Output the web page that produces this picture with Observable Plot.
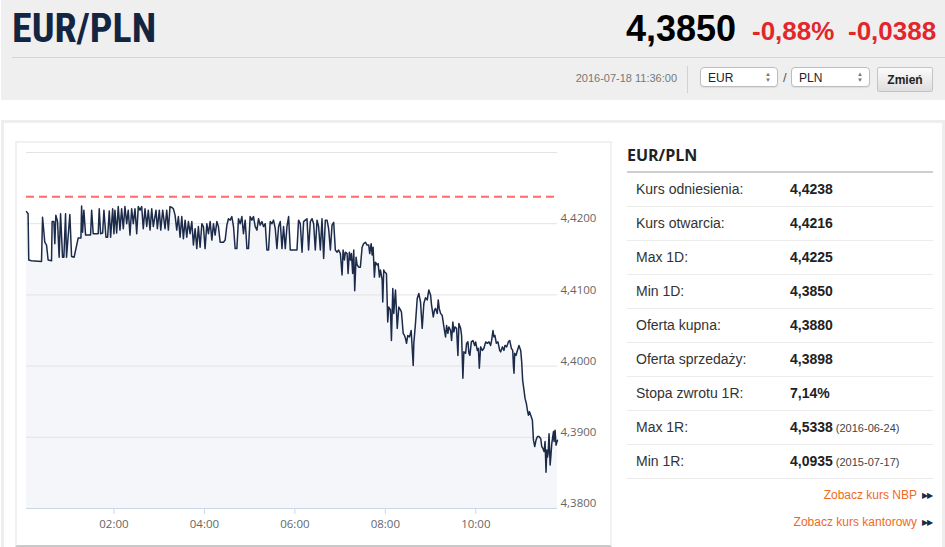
<!DOCTYPE html>
<html>
<head>
<meta charset="utf-8">
<script src="https://cdn.jsdelivr.net/npm/d3@7"></script>
<script src="https://cdn.jsdelivr.net/npm/@observablehq/plot@0.6"></script>
<style>
  html, body { margin:0; padding:0; }
  body { width:945px; height:547px; overflow:hidden; background:#fff; position:relative; font-family:"Liberation Sans", Arial, sans-serif; }
  .abs { position:absolute; }
  #header { left:1px; top:0; width:944px; height:100px; background:#efefef; }
  #title { left:12px; top:5px; font-family:"Liberation Sans Narrow","Roboto Condensed","Liberation Sans",sans-serif; font-weight:bold; font-size:40px; color:#142541; white-space:nowrap; }
  #price { left:626px; top:8px; font-weight:bold; font-size:36px; color:#000; }
  #pct { left:752px; top:16px; font-weight:bold; font-size:26px; color:#e3262b; }
  #chg { left:848px; top:16px; font-weight:bold; font-size:26px; color:#e3262b; }
  #hr { left:12px; top:57px; width:933px; height:1px; background:#d4d4d4; }
  #stamp { right:268px; top:72px; font-size:11px; color:#777; }
  #vsep { left:687px; top:66px; width:1px; height:27px; background:#d2d2d2; }
  .sel { top:67px; height:20px; border:1px solid #bdbdbd; border-radius:4px; background:#fff; font-size:12px; color:#222; line-height:20px; padding-left:7px; box-sizing:border-box; box-shadow:0 1px 1px rgba(0,0,0,0.08);}
  .arr { position:absolute; right:6px; top:3px; font-size:6px; line-height:6px; color:#777; }
  #slash { left:783px; top:70px; font-size:13px; color:#555; }
  #btn { left:877px; top:67px; width:56px; height:25px; border:1px solid #c4c4c4; border-radius:2px; background:linear-gradient(#fbfbfb,#dedede); font-weight:bold; font-size:12px; color:#222; text-align:center; line-height:25px; box-sizing:border-box; }
  #panel { left:1px; top:120px; width:944px; height:440px; border:3px solid #eeeeee; box-sizing:border-box; }
  #chartbox { left:15px; top:141px; width:597px; height:406px; border:2px solid #f1f1f1; border-bottom-color:#c9c9c9; box-sizing:border-box; }
  #chart { left:16px; top:143px; }
  #tbl { left:627px; top:140px; width:306px; }
  #tbl h3 { margin:0; height:31px; font-family:"Open Sans","Liberation Sans",sans-serif; font-weight:bold; font-size:16px; color:#222; line-height:30px; border-bottom:2px solid #cfcfcf; }
  .row { height:33px; border-bottom:1px solid #ececec; position:relative; font-size:14px; color:#333; }
  .row .l { position:absolute; left:9px; top:8px; }
  .row .v { position:absolute; left:163px; top:8px; font-weight:bold; color:#222; }
  .row .d { font-weight:normal; font-size:11px; color:#444; margin-left:3px; }
  .lnk { right:13px; font-size:12px; color:#f06a1d; white-space:nowrap; }
  .lnk span { color:#1b2a47; font-size:8px; margin-left:5px; vertical-align:1px; letter-spacing:-1px; }
</style>
</head>
<body>
<div id="header" class="abs"></div>
<div id="title" class="abs">EUR/PLN</div>
<div id="price" class="abs">4,3850</div>
<div id="pct" class="abs">-0,88%</div>
<div id="chg" class="abs">-0,0388</div>
<div id="hr" class="abs"></div>
<div id="stamp" class="abs">2016-07-18 11:36:00</div>
<div id="vsep" class="abs"></div>
<div class="abs sel" style="left:700px;width:78px;">EUR<span class="arr">▲<br>▼</span></div>
<div id="slash" class="abs">/</div>
<div class="abs sel" style="left:791px;width:79px;">PLN<span class="arr">▲<br>▼</span></div>
<div id="btn" class="abs">Zmień</div>

<div id="panel" class="abs"></div>
<div id="chartbox" class="abs"></div>
<div id="chart" class="abs"></div>

<div id="tbl" class="abs"></div>
<div class="abs lnk" style="top:488px;">Zobacz kurs NBP<span>▶▶</span></div>
<div class="abs lnk" style="top:515px;">Zobacz kurs kantorowy<span>▶▶</span></div>

<script>
// ---- data: minutes since 00:00 on 2016-07-18, and EUR/PLN rate ----
const times = [
4.0,6.1,7.0,10.6,23.9,25.3,28.3,30.6,32.7,37.2,38.0,40.3,41.6,42.9,45.2,47.3,49.2,51.8,53.6,55.8,
57.1,61.5,63.8,67.2,72.6,76.2,77.1,78.4,80.1,82.4,89.0,90.4,92.5,99.1,100.5,102.3,105.0,106.7,109.4,111.6,
113.8,115.6,118.3,120.0,121.3,123.6,125.7,128.0,130.2,132.4,134.6,136.9,139.0,141.3,143.5,145.7,147.9,150.2,152.3,154.6,
156.8,158.9,161.2,163.5,165.6,167.9,170.1,172.2,175.8,177.6,180.2,182.1,184.7,187.8,190.0,192.2,194.4,196.7,198.8,201.1,
203.3,205.5,207.7,210.0,212.1,214.4,216.6,218.8,221.0,223.3,225.4,227.7,229.9,232.0,
234.3,236.6,238.7,240.9,243.2,245.3,247.6,249.9,252.0,254.2,256.5,258.6,260.9,265.3,267.5,269.8,271.9,274.2,276.4,278.6,
280.8,283.1,285.2,287.5,289.7,291.8,294.1,296.4,298.5,300.7,303.0,305.1,307.4,309.7,311.8,314.0,316.3,318.4,320.7,322.9,
325.1,327.3,329.6,331.7,334.0,336.2,338.4,340.6,342.9,345.0,347.3,349.5,351.7,353.9,362.8,364.9,367.2,369.5,371.6,373.9,
376.1,378.2,380.5,382.8,384.9,387.1,389.4,391.5,393.8,396.0,398.2,400.4,402.7,404.8,407.1,409.3,411.5,413.7,
416.0,418.1,420.4,422.6,424.0,425.7,427.0,429.3,430.6,432.3,433.7,435.0,436.7,438.1,439.4,441.2,442.6,444.7,446.9,449.2,
451.3,453.6,455.8,458.0,459.3,461.2,462.5,463.8,465.5,466.9,469.1,470.5,472.2,473.5,475.8,476.6,477.9,479.2,481.5,483.2,
484.6,486.8,488.1,489.9,491.2,493.5,495.8,497.9,500.1,501.4,503.7,505.4,506.7,508.1,509.8,512.1,514.3,517.0,517.8,520.0,
522.3,524.4,526.7,528.9,531.1,533.3,535.6,537.7,540.0,541.3,543.6,545.3,546.6,548.9,550.2,551.5,553.3,
555.5,557.7,559.9,561.3,563.0,564.3,566.6,567.9,569.6,570.9,572.3,574.5,576.3,577.6,579.9,581.2,582.9,584.2,586.5,587.8,
589.6,590.9,592.2,594.1,596.2,598.5,599.8,602.0,603.4,604.7,606.4,608.7,610.8,613.1,615.3,617.5,619.7,621.0,622.8,624.1,
625.4,627.3,629.4,631.7,633.0,635.3,637.4,638.7,641.0,643.2,645.0,647.2,649.0,649.9,650.7,651.6,653.3,655.2,657.3,659.6,
660.9,662.2,664.0,665.3,667.2,668.5,669.8,671.2,672.9,675.1,676.5,678.2,679.9,681.8,683.9,686.2,687.5,689.2,690.6,691.9,
693.2,694.2,695.1,695.9,697.2,698.6,699.5,700.8,702.1,703.1,703.8,705.2,706.5,708.4
];
const rates = [
4.4217,4.4214,4.4149,4.4148,4.4147,4.4209,4.4174,4.4170,4.4149,4.4148,4.4203,4.4203,4.4172,4.4212,4.4203,4.4153,4.4214,4.4153,4.4153,4.4214,
4.4153,4.4213,4.4154,4.4153,4.4180,4.4180,4.4225,4.4188,4.4219,4.4184,4.4184,4.4219,4.4186,4.4186,4.4221,4.4186,4.4187,4.4219,4.4181,4.4181,
4.4218,4.4181,4.4221,4.4186,4.4219,4.4187,4.4224,4.4191,4.4221,4.4193,4.4224,4.4200,4.4219,4.4184,4.4221,4.4200,4.4221,4.4186,4.4224,4.4219,
4.4224,4.4193,4.4221,4.4196,4.4219,4.4191,4.4221,4.4196,4.4219,4.4193,4.4219,4.4191,4.4219,4.4193,4.4219,4.4191,4.4224,4.4223,4.4221,4.4212,
4.4191,4.4210,4.4181,4.4210,4.4179,4.4205,4.4181,4.4203,4.4186,4.4203,4.4170,4.4193,4.4165,4.4196,
4.4167,4.4200,4.4196,4.4165,4.4200,4.4186,4.4203,4.4177,4.4200,4.4184,4.4203,4.4196,4.4174,4.4174,4.4177,4.4198,4.4207,4.4205,4.4210,4.4196,
4.4165,4.4165,4.4207,4.4200,4.4210,4.4186,4.4205,4.4165,4.4165,4.4210,4.4205,4.4210,4.4196,4.4191,4.4207,4.4198,4.4203,4.4196,4.4200,4.4163,
4.4163,4.4203,4.4200,4.4205,4.4193,4.4165,4.4196,4.4203,4.4165,4.4196,4.4165,4.4196,4.4210,4.4163,4.4163,4.4205,4.4200,4.4160,4.4203,4.4205,
4.4207,4.4163,4.4203,4.4207,4.4200,4.4163,4.4205,4.4196,4.4163,4.4207,4.4151,4.4205,4.4205,4.4193,4.4163,4.4198,4.4202,4.4163,
4.4160,4.4163,4.4158,4.4128,4.4163,4.4149,4.4160,4.4158,4.4130,4.4160,4.4149,4.4158,4.4130,4.4163,4.4106,4.4153,4.4142,4.4139,4.4139,4.4167,
4.4172,4.4174,4.4170,4.4170,4.4158,4.4172,4.4156,4.4167,4.4125,4.4146,4.4142,4.4144,4.4125,4.4135,4.4121,4.4090,4.4135,4.4132,4.4130,4.4062,
4.4083,4.4079,4.4036,4.4109,4.4074,4.4107,4.4053,4.4083,4.4079,4.4076,4.4046,4.4043,4.4039,4.4032,4.4043,4.4041,4.4050,4.4001,4.4032,4.4060,
4.4095,4.4102,4.4090,4.4053,4.4088,4.4096,4.4093,4.4107,4.4100,4.4086,4.4069,4.4079,4.4081,4.4074,4.4093,4.4081,4.4074,
4.4071,4.4055,4.4041,4.4057,4.4046,4.4055,4.4050,4.4036,4.4062,4.4048,4.4055,4.4053,4.4015,4.4060,4.4053,4.4043,4.3983,4.4020,4.4018,4.4032,
4.4034,4.4018,4.4015,4.4034,4.4036,4.4029,4.4034,4.4022,4.4025,4.3997,4.4027,4.4022,4.4025,4.4034,4.4032,4.4034,4.4029,4.4036,4.4050,4.4041,
4.4043,4.4032,4.4034,4.4022,4.4020,4.4027,4.4022,4.4029,4.4027,4.4034,4.4036,4.4025,4.4022,4.4001,4.3990,4.4018,4.4015,4.4022,4.4029,4.4022,
4.4006,4.3980,4.3966,4.3955,4.3947,4.3938,4.3931,4.3936,4.3931,4.3924,4.3896,4.3887,4.3896,4.3901,4.3901,4.3898,4.3887,4.3884,4.3880,4.3894,
4.3851,4.3882,4.3872,4.3877,4.3905,4.3861,4.3872,4.3891,4.3901,4.3908,4.3894,4.3910,4.3889,4.3896
];
const referenceRate = 4.4238;
const yLabelTicks = [4.38, 4.39, 4.40, 4.41, 4.42];
const yGridTicks = [4.39, 4.40, 4.41, 4.42, 4.43];
const xTickHours = [2, 4, 6, 8, 10];

// table content
const tableLabels = ["Kurs odniesienia:", "Kurs otwarcia:", "Max 1D:", "Min 1D:", "Oferta kupna:", "Oferta sprzedaży:", "Stopa zwrotu 1R:", "Max 1R:", "Min 1R:"];
const tableValues = ["4,4238", "4,4216", "4,4225", "4,3850", "4,3880", "4,3898", "7,14%", "4,5338", "4,0935"];
const tableDates  = ["", "", "", "", "", "", "", "(2016-06-24)", "(2015-07-17)"];

const base = new Date(2016, 6, 18, 0, 0, 0).getTime();
const data = times.map((m, i) => ({date: new Date(base + m * 60000), rate: rates[i]}));
const xTicks = xTickHours.map(h => new Date(base + h * 3600000));
const fmt = d => d.toFixed(4).replace(".", ",");

const chart = Plot.plot({
  width: 595, height: 404,
  marginLeft: 10, marginRight: 54, marginTop: 9, marginBottom: 39,
  x: {type: "time", domain: [data[0].date, data[data.length - 1].date]},
  y: {domain: [4.38, 4.43]},
  style: {fontFamily: "'Open Sans', 'Liberation Sans', sans-serif", fontSize: "11.5px", color: "#666", background: "transparent", overflow: "visible"},
  marks: [
    Plot.areaY(data, {x: "date", y1: 4.38, y2: "rate", fill: "#f5f6f9"}),
    Plot.gridY(yGridTicks, {stroke: "#e3e3e3", strokeOpacity: 1}),
    Plot.ruleY([referenceRate], {stroke: "#ff6a6a", strokeWidth: 2, strokeDasharray: "8,5"}),
    Plot.lineY(data, {x: "date", y: "rate", stroke: "#1c2b4a", strokeWidth: 1.5}),
    Plot.ruleY([4.38], {stroke: "#ccd6eb"}),
    Plot.axisX(xTicks, {tickSize: 6, tickPadding: 5, stroke: "#ccd6eb", fill: "#666", tickFormat: d3.timeFormat("%H:%M"), label: null}),
    Plot.axisY(yLabelTicks, {anchor: "right", tickSize: 0, tickPadding: 3, dy: -5, fill: "#666", tickFormat: fmt, label: null})
  ]
});
document.getElementById("chart").appendChild(chart);

// table
const tbl = document.getElementById("tbl");
const h = document.createElement("h3");
h.textContent = "EUR/PLN";
tbl.appendChild(h);
tableLabels.forEach((lab, i) => {
  const r = document.createElement("div");
  r.className = "row";
  const l = document.createElement("span"); l.className = "l"; l.textContent = lab;
  const v = document.createElement("span"); v.className = "v"; v.textContent = tableValues[i];
  if (tableDates[i]) {
    const d = document.createElement("span"); d.className = "d"; d.textContent = tableDates[i];
    v.appendChild(d);
  }
  r.appendChild(l); r.appendChild(v);
  tbl.appendChild(r);
});
</script>
</body>
</html>
